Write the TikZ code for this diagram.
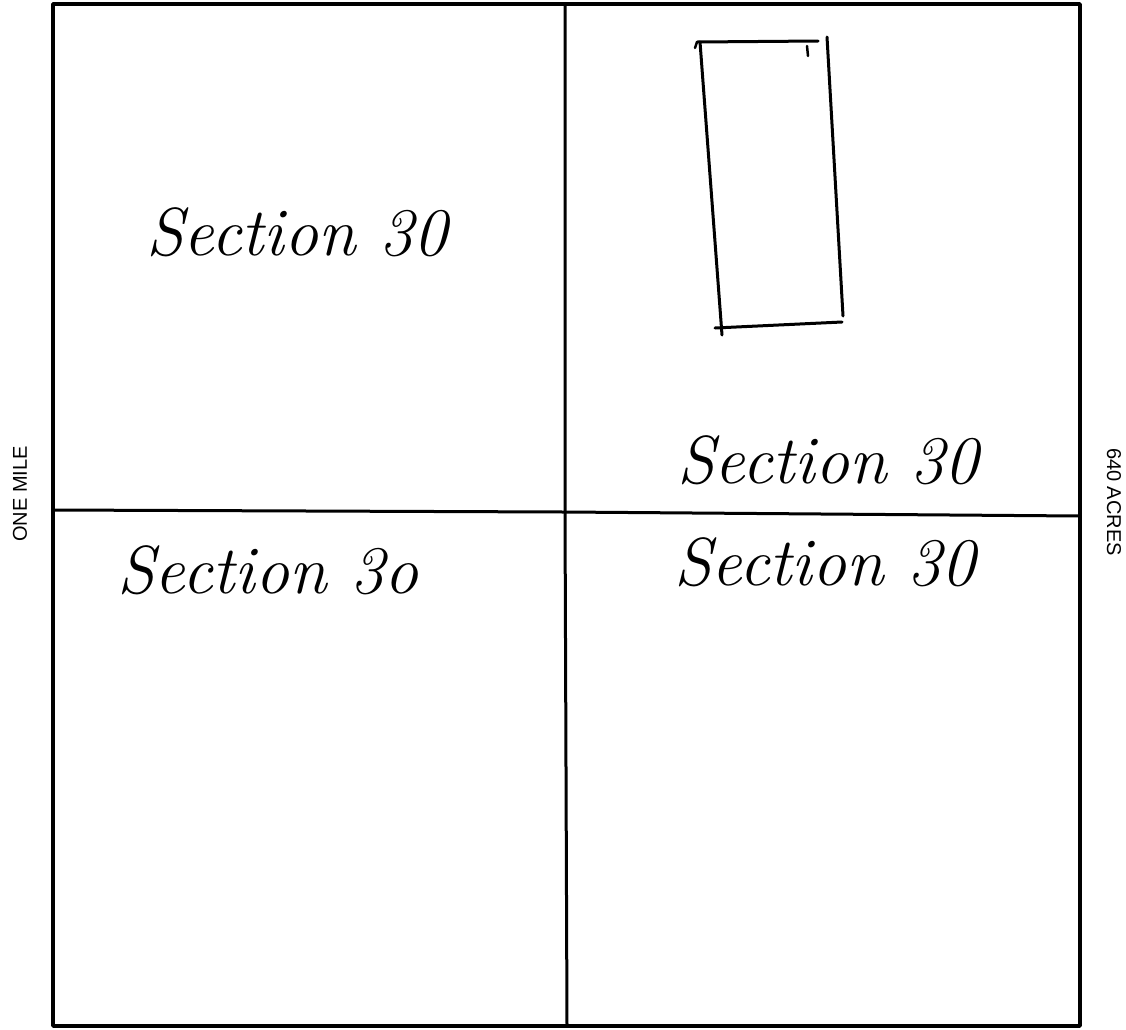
\documentclass[tikz,border=0pt]{standalone}
\usepackage{fontspec}
\setsansfont{Liberation Sans}
\usetikzlibrary{positioning}

\begin{document}
\begin{tikzpicture}[x=1pt, y=-1pt, line cap=round, line join=round]
    \useasboundingbox (0,0) rectangle (1126,1029);
    \tikzset{
        hand/.style={font=\itshape\fontsize{68}{74}\selectfont},
        side/.style={font=\sffamily\fontsize{20}{22}\selectfont}
    }

    % outer square
    \draw[line width=3.5pt] (53,4) -- (1080,4) -- (1080,1026) -- (53,1026) -- cycle;

    % quarter lines
    \draw[line width=3pt] (53,510) -- (565,512) -- (1080,516);
    \draw[line width=3pt] (565,4) -- (565,512) -- (567,1026);

    % parcel in the north-east quarter
    \draw[line width=3pt] (697,42) -- (818,41);
    \draw[line width=3pt] (700,42) -- (722,335);
    \draw[line width=3pt] (827,37) -- (843,316);
    \draw[line width=3pt] (715,328) -- (842,322);
    \draw[line width=2.5pt] (697,42) -- (695,48);
    \draw[line width=2.5pt] (807,46) -- (808,56);

    \node[hand] at (297,232) {Section 30};
    \node[hand] at (828,460) {Section 30};
    \node[hand] at (268,570) {Section 3o};
    \node[hand] at (825,562) {Section 30};

    \node[side, rotate=90] at (20,494) {ONE MILE};
    \node[side, rotate=-90] at (1114,502) {640 ACRES};
\end{tikzpicture}
\end{document}
